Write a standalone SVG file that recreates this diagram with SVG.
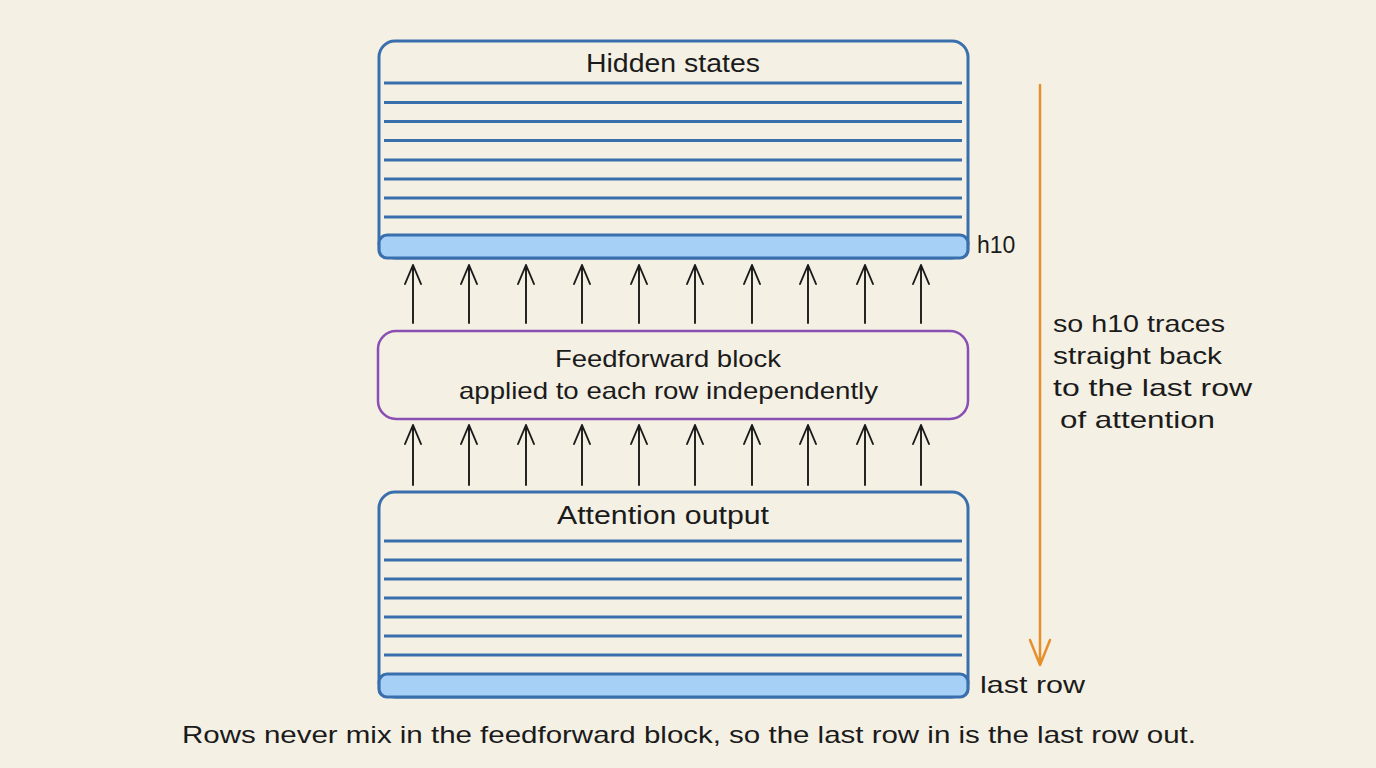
<svg xmlns="http://www.w3.org/2000/svg" width="1376" height="768" viewBox="0 0 1376 768">
<defs>
<style>
.t{font-family:"Liberation Sans","DejaVu Sans",sans-serif;fill:#1b1b1b}
.box{fill:none;stroke:#3a6fae;stroke-width:3}
.row{stroke:#3a6fae;stroke-width:2.8;fill:none}
.bar{fill:#a6d0f6;stroke:#3a6fae;stroke-width:3.2}
.ff{fill:none;stroke:#8a4fb3;stroke-width:2.5}
.ar{stroke:#1b1b1b;stroke-width:1.9;fill:none;stroke-linecap:round;stroke-linejoin:round}
.or{stroke:#e68f2b;stroke-width:2.5;fill:none;stroke-linecap:round;stroke-linejoin:round}
</style>
</defs>
<rect width="1376" height="768" fill="#f4f0e4"/>

<g id="hidden-states">
<rect class="box" x="379" y="41" width="589" height="217" rx="16"/>
<g class="row">
<line x1="384" y1="83" x2="962" y2="83"/>
<line x1="384" y1="102.5" x2="962" y2="102.5"/>
<line x1="384" y1="121.5" x2="962" y2="121.5"/>
<line x1="384" y1="140.5" x2="962" y2="140.5"/>
<line x1="384" y1="160" x2="962" y2="160"/>
<line x1="384" y1="179" x2="962" y2="179"/>
<line x1="384" y1="198" x2="962" y2="198"/>
<line x1="384" y1="217" x2="962" y2="217"/>
</g>
<rect class="bar" x="379" y="235" width="589" height="23" rx="8"/>
<text class="t" x="586" y="72" font-size="25" textLength="174" lengthAdjust="spacingAndGlyphs">Hidden states</text>
<text class="t" x="977" y="253" font-size="23">h10</text>
</g>

<g id="feedforward">
<rect class="ff" x="378" y="331" width="590" height="88" rx="18"/>
<text class="t" x="555" y="367" font-size="24" textLength="226" lengthAdjust="spacingAndGlyphs">Feedforward block</text>
<text class="t" x="459" y="399" font-size="24" textLength="419" lengthAdjust="spacingAndGlyphs">applied to each row independently</text>
</g>

<g id="attention-output">
<rect class="box" x="379" y="492" width="589" height="205" rx="16"/>
<g class="row">
<line x1="384" y1="541" x2="962" y2="541"/>
<line x1="384" y1="560" x2="962" y2="560"/>
<line x1="384" y1="579" x2="962" y2="579"/>
<line x1="384" y1="598" x2="962" y2="598"/>
<line x1="384" y1="617" x2="962" y2="617"/>
<line x1="384" y1="636" x2="962" y2="636"/>
<line x1="384" y1="655" x2="962" y2="655"/>
</g>
<rect class="bar" x="379" y="674" width="589" height="23" rx="8"/>
<text class="t" x="557" y="524" font-size="25" textLength="212" lengthAdjust="spacingAndGlyphs">Attention output</text>
<text class="t" x="980" y="693" font-size="24" textLength="105" lengthAdjust="spacingAndGlyphs">last row</text>
</g>

<g id="connectors">
<g class="ar">
<path d="M413 323V265M405 284L413 265L421 284"/>
<path d="M469 323V265M461 284L469 265L477 284"/>
<path d="M526 323V265M518 284L526 265L534 284"/>
<path d="M582 323V265M574 284L582 265L590 284"/>
<path d="M639 323V265M631 284L639 265L647 284"/>
<path d="M695 323V265M687 284L695 265L703 284"/>
<path d="M752 323V265M744 284L752 265L760 284"/>
<path d="M808 323V265M800 284L808 265L816 284"/>
<path d="M865 323V265M857 284L865 265L873 284"/>
<path d="M921 323V265M913 284L921 265L929 284"/>
<path d="M413 485V425M405 444L413 425L421 444"/>
<path d="M469 485V425M461 444L469 425L477 444"/>
<path d="M526 485V425M518 444L526 425L534 444"/>
<path d="M582 485V425M574 444L582 425L590 444"/>
<path d="M639 485V425M631 444L639 425L647 444"/>
<path d="M695 485V425M687 444L695 425L703 444"/>
<path d="M752 485V425M744 444L752 425L760 444"/>
<path d="M808 485V425M800 444L808 425L816 444"/>
<path d="M865 485V425M857 444L865 425L873 444"/>
<path d="M921 485V425M913 444L921 425L929 444"/>
</g>
<path class="or" d="M1040 85V665M1030 640L1040 665L1050 640"/>
</g>

<g id="note">
<text class="t" x="1053" y="332" font-size="24" textLength="172" lengthAdjust="spacingAndGlyphs">so h10 traces</text>
<text class="t" x="1053" y="364" font-size="24" textLength="169" lengthAdjust="spacingAndGlyphs">straight back</text>
<text class="t" x="1053" y="396" font-size="24" textLength="199" lengthAdjust="spacingAndGlyphs">to the last row</text>
<text class="t" x="1060" y="428" font-size="24" textLength="155" lengthAdjust="spacingAndGlyphs">of attention</text>
</g>

<g id="caption">
<text class="t" x="182" y="743" font-size="24" textLength="1014" lengthAdjust="spacingAndGlyphs">Rows never mix in the feedforward block, so the last row in is the last row out.</text>
</g>
</svg>
